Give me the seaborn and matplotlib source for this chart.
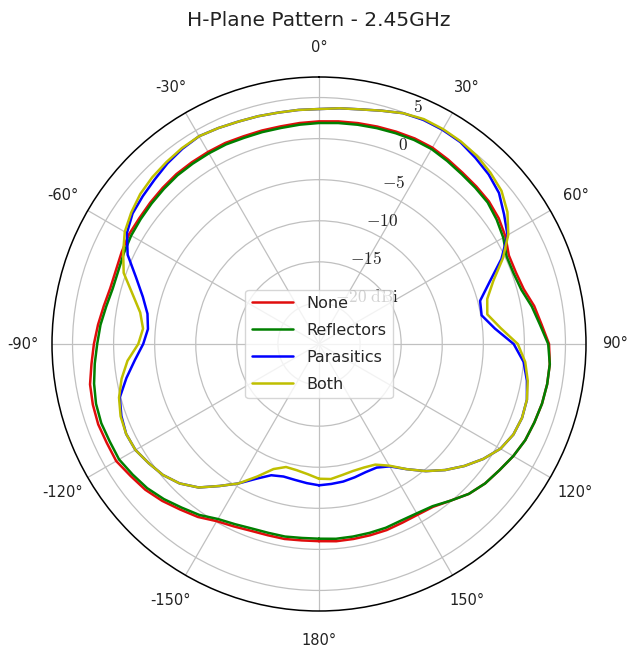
import numpy as np
import pandas as pd
import matplotlib
matplotlib.use("Agg")
import matplotlib.pyplot as plt
import seaborn as sns

# ---- data (angles in degrees, clockwise from top; gain in dBi) ----
angles_deg = list(range(-180, 181, 5))

none_dbi = [-1.0, -1.0, -0.9, -0.9, -0.8, -0.5, -0.1, 0.7, 1.3, 2.0, 2.6, 3.0, 3.5,
            3.5, 3.6, 3.5, 3.3, 2.8, 2.4, 2.0, 1.6, 1.3, 1.3, 1.5, 1.7, 1.7, 1.8,
            1.9, 2.0, 2.0, 2.0, 2.0, 1.9, 1.9, 1.9, 2.0, 2.1, 2.2, 2.3, 2.4, 2.5,
            2.6, 2.6, 2.4, 2.2, 2.1, 2.0, 1.7, 1.2, 0.5, 0.5, 0.8, 1.6, 2.2, 3.0,
            3.2, 3.2, 3.1, 2.9, 2.7, 2.3, 1.8, 1.4, 0.8, -0.1, -0.8, -1.0, -1.0,
            -0.9, -0.9, -0.9, -0.9, -1.0]

reflectors_dbi = [-1.3, -1.3, -1.2, -1.2, -1.1, -0.8, -0.4, 0.4, 1.0, 1.7, 2.3, 2.7,
                  3.1, 3.1, 3.2, 3.1, 2.8, 2.4, 2.0, 1.7, 1.3, 1.0, 1.0, 1.2, 1.4,
                  1.5, 1.6, 1.7, 1.8, 1.8, 1.8, 1.8, 1.7, 1.7, 1.7, 1.8, 1.9, 2.0,
                  2.1, 2.2, 2.3, 2.4, 2.4, 2.2, 2.0, 1.9, 1.8, 1.4, 0.9, 0.2, 0.2,
                  0.5, 1.3, 2.0, 2.9, 3.2, 3.2, 3.1, 2.9, 2.7, 2.3, 1.8, 1.4, 0.8,
                  -0.1, -0.9, -1.2, -1.3, -1.2, -1.2, -1.2, -1.2, -1.3]

parasitics_dbi = [-7.8, -8.0, -8.2, -8.3, -8.0, -6.9, -5.4, -3.9, -2.2, -1.0, -0.2,
                  0.3, 0.8, 0.9, 0.6, 0.1, -1.2, -2.5, -3.6, -4.1, -3.8, -2.8, -1.3,
                  0.7, 2.0, 2.7, 3.0, 3.3, 3.7, 4.0, 4.2, 4.0, 3.8, 3.7, 3.6, 3.6,
                  3.6, 3.8, 4.0, 4.4, 4.9, 5.1, 5.1, 5.0, 4.6, 4.2, 3.6, 2.5, 1.5,
                  -0.5, -2.9, -4.7, -4.9, -3.5, -1.3, 0.0, 0.7, 1.2, 1.3, 1.1, 0.5,
                  -0.6, -1.9, -3.3, -4.8, -6.4, -7.8, -8.4, -8.4, -8.2, -8.0, -7.9,
                  -7.8]

both_dbi = [-8.6, -9.1, -9.4, -9.5, -8.8, -7.2, -5.4, -3.9, -2.2, -1.0, -0.2, 0.3,
            0.8, 0.9, 0.7, 0.2, -0.6, -1.6, -3.0, -3.5, -2.9, -1.5, 0.3, 1.3, 2.3,
            2.9, 3.4, 3.7, 3.9, 4.1, 4.2, 4.0, 3.8, 3.7, 3.6, 3.6, 3.6, 3.8, 4.0,
            4.4, 4.9, 5.2, 5.2, 5.1, 4.9, 4.5, 4.0, 3.0, 1.6, -0.3, -2.4, -3.8,
            -4.2, -2.8, -0.8, 0.2, 0.8, 1.2, 1.3, 1.1, 0.5, -0.6, -1.9, -3.3,
            -4.8, -6.4, -7.9, -8.8, -9.0, -9.0, -8.8, -8.5, -8.6]

series_names = ["None", "Reflectors", "Parasitics", "Both"]
series_colors = [(0.88, 0.05, 0.05), (0.0, 0.5, 0.0), (0.0, 0.0, 1.0), (0.75, 0.75, 0.0)]
r_ticks = [-20, -15, -10, -5, 0, 5]
r_tick_labels = [r"$-20\ \mathrm{dBi}$", r"$-15$", r"$-10$", r"$-5$", r"$0$", r"$5$"]
theta_ticks = list(range(0, 360, 30))
theta_labels = ["0°", "30°", "60°", "90°", "120°", "150°", "180°",
                "-150°", "-120°", "-90°", "-60°", "-30°"]
title = "H-Plane Pattern - 2.45GHz"

# ---- build long-form table ----
frames = []
for name, vals in zip(series_names, [none_dbi, reflectors_dbi, parasitics_dbi, both_dbi]):
    frames.append(pd.DataFrame({"theta": np.deg2rad(angles_deg), "gain": vals,
                                "config": name}))
df = pd.concat(frames, ignore_index=True)

sns.set_theme(style="white")
plt.rcParams["font.family"] = ["DejaVu Sans"]
plt.rcParams["mathtext.fontset"] = "cm"

fig = plt.figure(figsize=(6.29, 6.55), dpi=100)
ax = fig.add_axes([52 / 629, 44 / 655, 534 / 629, 534 / 655], projection="polar")
ax.set_theta_zero_location("N")
ax.set_theta_direction(-1)

sns.lineplot(data=df, x="theta", y="gain", hue="config", hue_order=series_names,
             palette=dict(zip(series_names, series_colors)), sort=False,
             estimator=None, linewidth=1.8, ax=ax, legend=True)

ax.set_ylim(-25, 7.5)
ax.set_yticks(r_ticks)
ax.set_yticklabels(r_tick_labels, fontsize=12.5, color="#222222")
ax.set_rlabel_position(22.5)
ax.set_thetagrids(theta_ticks, theta_labels, fontsize=10.5, color="#222222")
ax.tick_params(axis="x", pad=8)
ax.set_xlabel("")
ax.set_ylabel("")
ax.grid(True, color="#c0c0c0", linewidth=0.9)
ax.spines["polar"].set_color("black")
ax.spines["polar"].set_linewidth(1.1)

handles, labels = ax.get_legend_handles_labels()
ax.legend(handles, labels, loc="center", fontsize=11.5, framealpha=0.8,
          edgecolor="#cccccc", fancybox=True, handlelength=2.6, labelspacing=0.75)

ax.set_title(title, fontsize=14.5, y=1.095, pad=0, color="#222222")

fig.savefig("out.png", dpi=100)
